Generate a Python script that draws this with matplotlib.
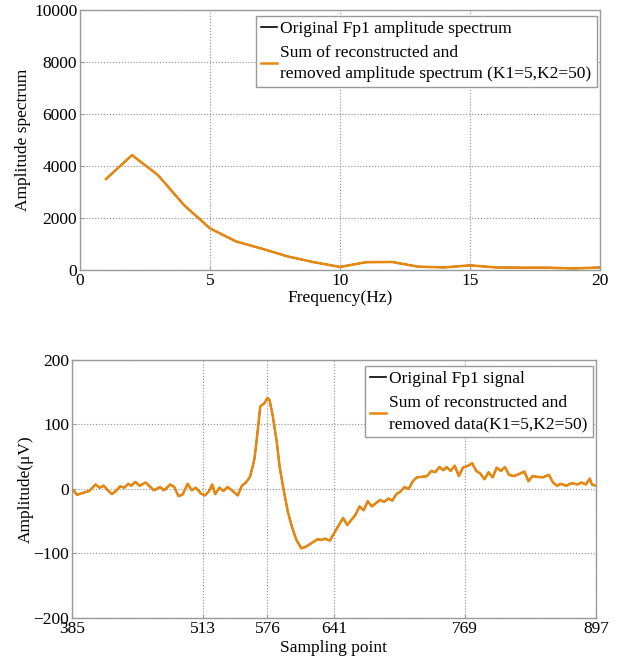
import numpy as np
import matplotlib
matplotlib.use("Agg")
import matplotlib.pyplot as plt

plt.rcParams['font.family'] = ['Liberation Serif', 'DejaVu Serif']
plt.rcParams['font.size'] = 12.5

# top panel: amplitude spectrum
freq = [1, 2, 3, 4, 5, 6, 7, 8, 9, 10, 11, 12, 13, 14, 15, 16, 17, 18, 19, 20]
spectrum = [3500, 4420, 3650, 2500, 1600, 1100, 820, 520, 300, 120,
            300, 310, 130, 100, 180, 100, 90, 90, 60, 100]

# bottom panel: signal
samples = [385, 390, 394, 398, 402, 408, 412, 416, 420, 424, 428, 432, 436, 440,
           443, 447, 451, 457, 461, 465, 471, 475, 481, 485, 489, 493, 498, 502,
           506, 511, 515, 519, 522, 525, 529, 533, 537, 542, 547, 551, 555, 559,
           563, 565, 569, 573, 576, 578, 581, 585, 588, 592, 596, 600, 604, 609,
           613, 617, 621, 625, 629, 632, 637, 641, 645, 650, 654, 658, 662, 666,
           670, 674, 678, 682, 686, 690, 694, 698, 702, 706, 710, 714, 718, 722,
           728, 732, 736, 740, 744, 748, 751, 755, 759, 763, 767, 772, 776, 780,
           784, 788, 792, 796, 800, 804, 808, 812, 817, 823, 827, 831, 835, 839,
           845, 851, 855, 859, 863, 868, 873, 879, 883, 887, 891, 893, 897]
signal = [0, -9, -7, -5, -3, 7, 2, 5, -2, -8, -3, 4, 2, 8,
          5, 11, 5, 10, 4, -2, 3, -2, 7, 3, -11, -9, 8, -2,
          2, -7, -10, -3, 7, -8, 2, -3, 3, -3, -10, 5, 10, 19,
          44, 69, 128, 133, 141, 138, 115, 74, 33, -3, -36, -59, -78, -92,
          -90, -86, -82, -78, -79, -77, -80, -69, -58, -45, -56, -48, -40, -27,
          -33, -19, -27, -22, -17, -20, -15, -18, -8, -4, 3, 0, 12, 18,
          19, 20, 28, 26, 34, 29, 34, 28, 36, 20, 33, 36, 40, 28,
          24, 15, 26, 18, 33, 28, 34, 22, 20, 24, 27, 12, 20, 19,
          18, 22, 10, 5, 8, 5, 9, 7, 10, 7, 16, 7, 5]

orange = '#E8870E'
grey = '#9a9a9a'


def style_axes(ax):
    for sp in ax.spines.values():
        sp.set_color(grey)
        sp.set_linewidth(1.0)
    ax.grid(True, linestyle=':', color='#8c8c8c', linewidth=0.8)
    ax.tick_params(direction='in', length=3, color=grey, labelcolor='black',
                   pad=2, labelsize=12.5)


def style_legend(ax):
    leg = ax.legend(loc='upper right', fontsize=12.5, handlelength=0.9, handletextpad=0.2,
                    borderpad=0.3, labelspacing=0.45, fancybox=False, framealpha=1,
                    borderaxespad=0.1, bbox_to_anchor=(0.997, 0.985))
    leg.get_frame().set_edgecolor(grey)
    leg.get_frame().set_linewidth(1.0)
    for t in leg.get_texts():
        t.set_linespacing(1.45)
    return leg


fig = plt.figure(figsize=(6.37, 6.57), dpi=100)

ax1 = fig.add_axes([0.1256, 0.589, 0.8163, 0.3957])
ax1.plot(freq, spectrum, color='black', lw=1.2, label='Original Fp1 amplitude spectrum')
ax1.plot(freq, spectrum, color=orange, lw=1.8,
         label='Sum of reconstructed and\nremoved amplitude spectrum (K1=5,K2=50)')
ax1.set_xlim(0, 20)
ax1.set_ylim(0, 10000)
ax1.set_xticks([0, 5, 10, 15, 20])
ax1.set_yticks([0, 2000, 4000, 6000, 8000, 10000])
ax1.set_xlabel('Frequency(Hz)', labelpad=1)
ax1.set_ylabel('Amplitude spectrum', labelpad=2)
style_axes(ax1)
style_legend(ax1)

ax2 = fig.add_axes([0.113, 0.0594, 0.8226, 0.3927])
ax2.plot(samples, signal, color='black', lw=1.2, label='Original Fp1 signal')
ax2.plot(samples, signal, color=orange, lw=1.8,
         label='Sum of reconstructed and\nremoved data(K1=5,K2=50)')
ax2.set_xlim(385, 897)
ax2.set_ylim(-200, 200)
ax2.set_xticks([385, 513, 576, 641, 769, 897])
ax2.set_yticks([-200, -100, 0, 100, 200])
ax2.set_xlabel('Sampling point', labelpad=2)
ax2.set_ylabel('Amplitude(μV)', labelpad=0)
style_axes(ax2)
style_legend(ax2)

fig.savefig('out.png', dpi=100)
